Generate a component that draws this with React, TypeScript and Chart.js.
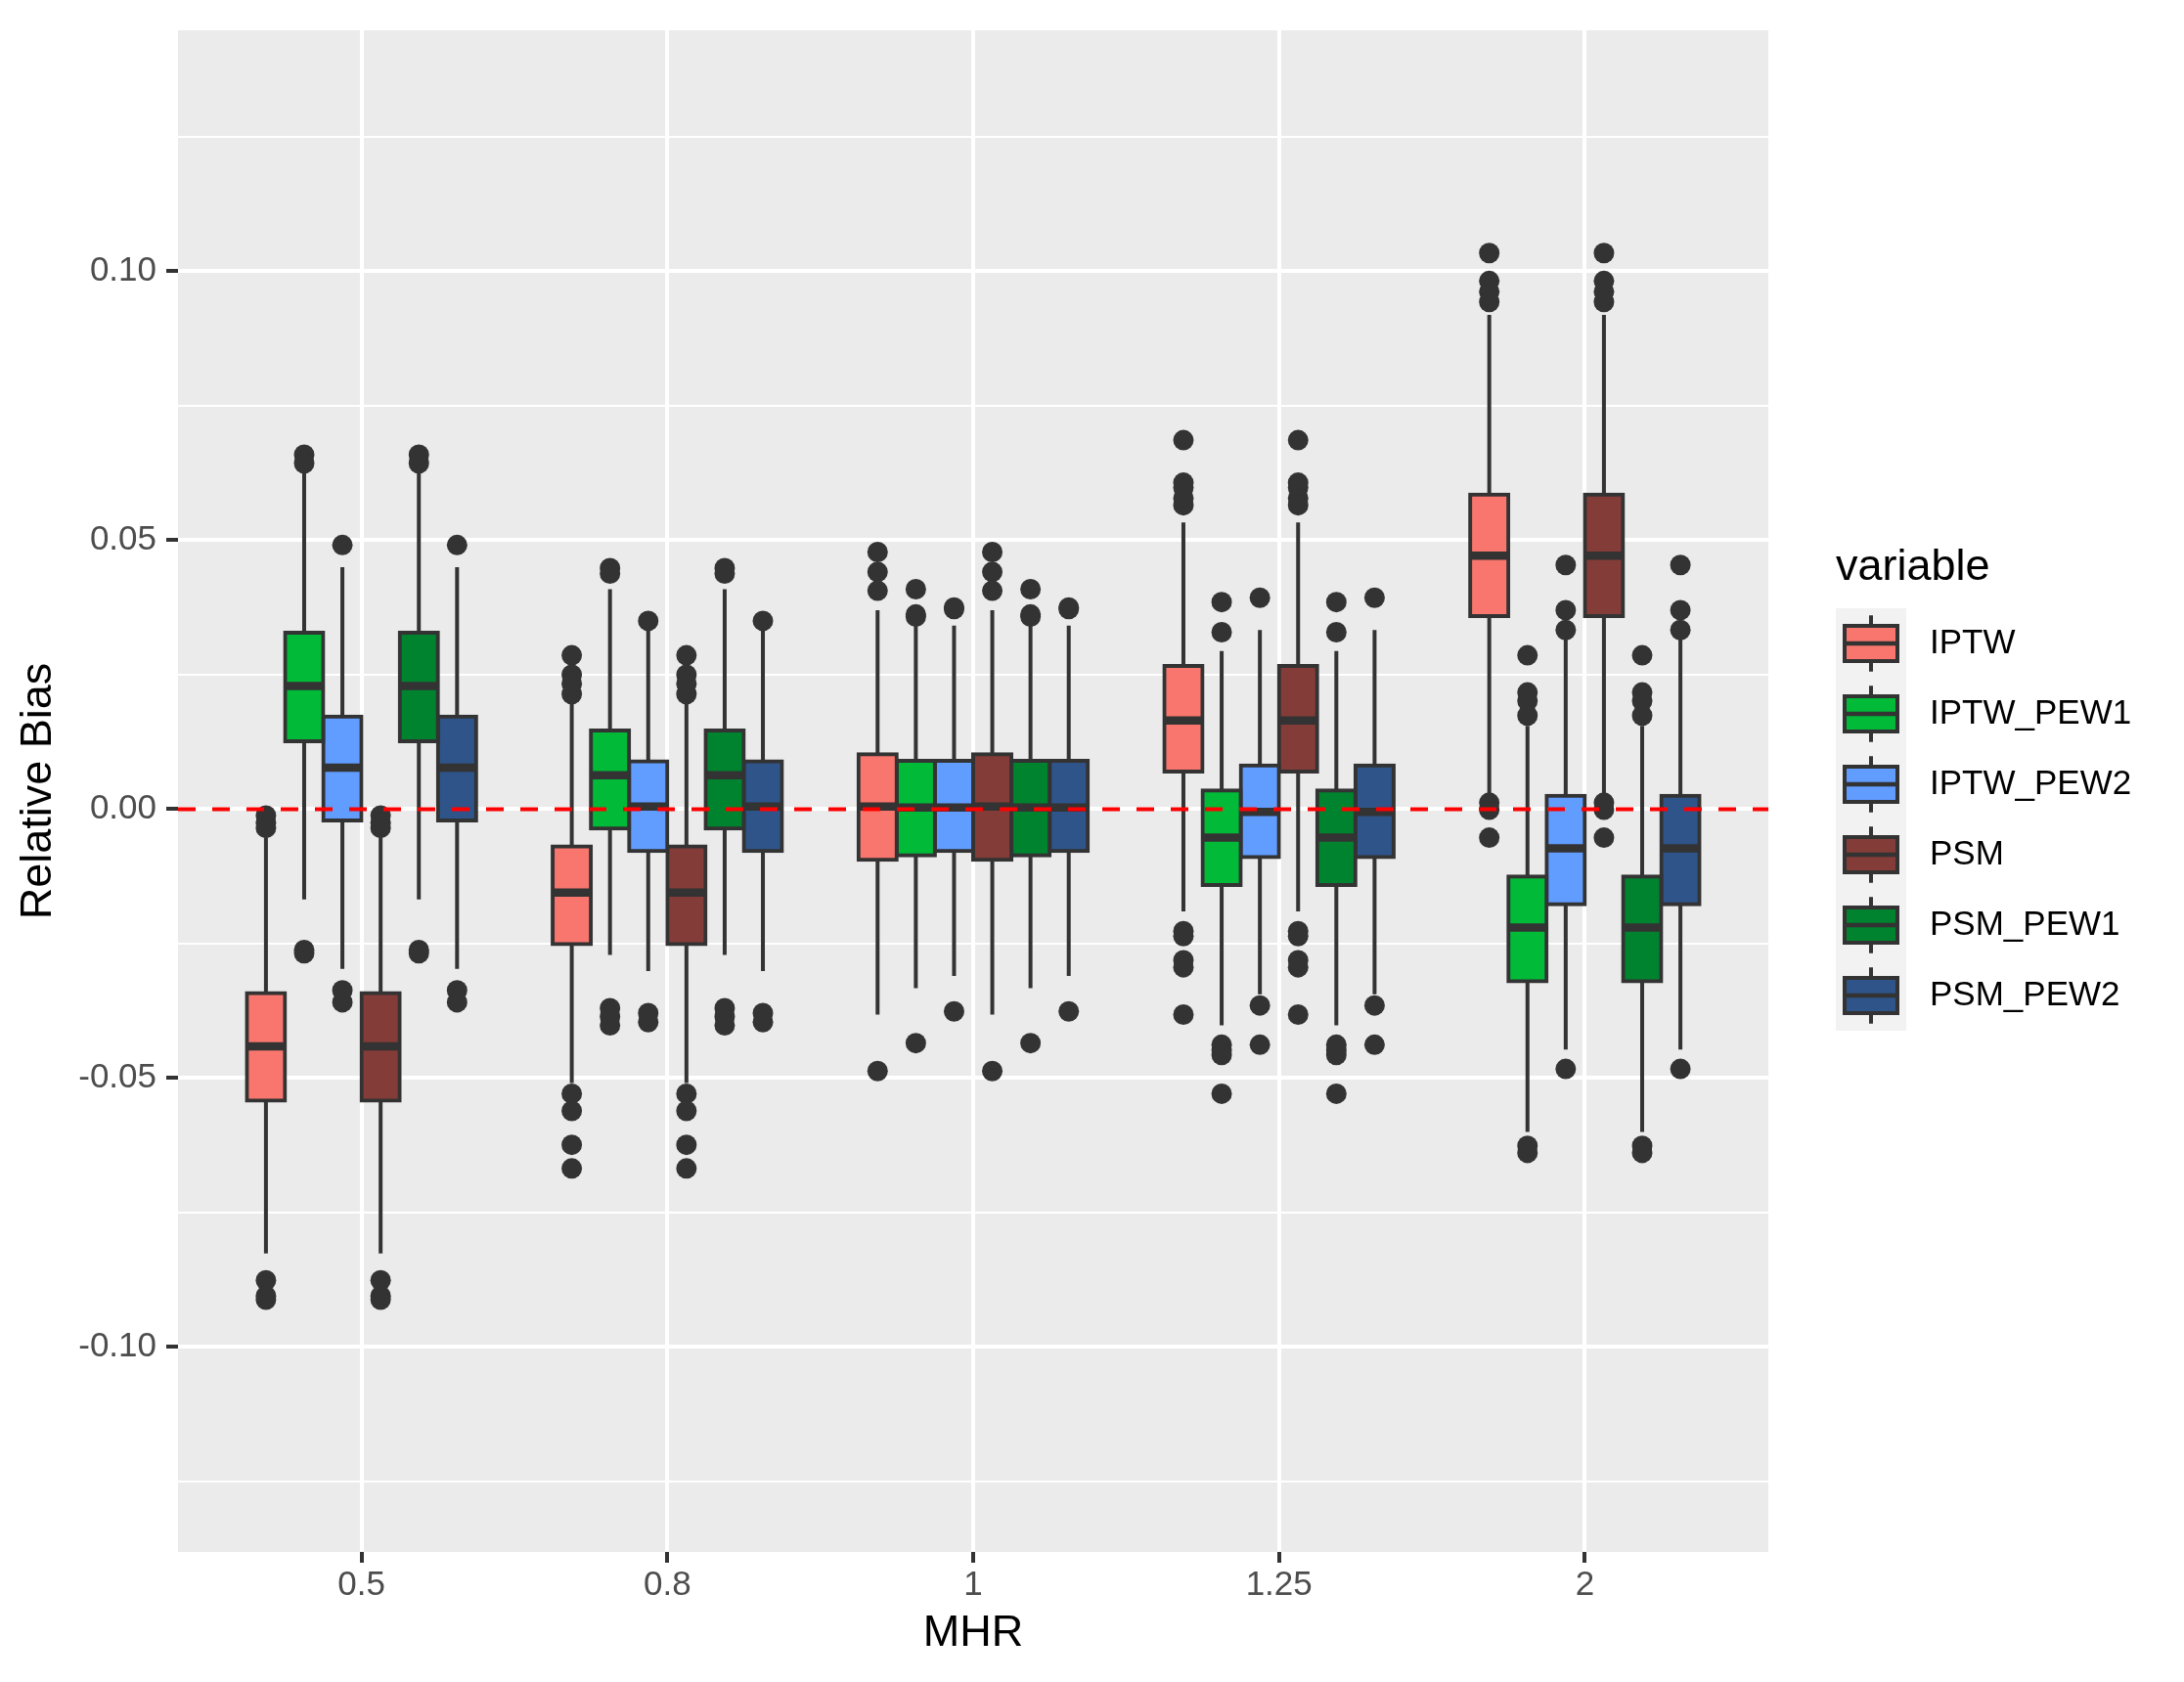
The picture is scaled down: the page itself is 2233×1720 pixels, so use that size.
import { useEffect, useRef } from "react"
import { Chart, registerables } from "chart.js"

Chart.register(...registerables)

const FONT = '"Liberation Sans", Arial, Helvetica, sans-serif'
const DARK = "#333333"

// categorias do eixo x (MHR)
const mhrLabels = ["0.5", "0.8", "1", "1.25", "2"]

// IPTW
const iptwLow = [-0.0826, -0.0509, -0.0382, -0.019, 0.0025]
const iptwQ1 = [-0.0542, -0.0251, -0.0094, 0.007, 0.0359]
const iptwMed = [-0.0441, -0.0155, 0.0005, 0.0165, 0.0471]
const iptwQ3 = [-0.0342, -0.0069, 0.0102, 0.0266, 0.0585]
const iptwHigh = [-0.0053, 0.0198, 0.037, 0.0533, 0.0919]
const iptwOut = [
  [-0.0012, -0.0025, -0.0035, -0.0876, -0.0905, -0.0912],
  [0.0286, 0.025, 0.0233, 0.0214, -0.0529, -0.0561, -0.0624, -0.0668],
  [0.0478, 0.0441, 0.0406, -0.0487],
  [0.0686, 0.0607, 0.0598, 0.0578, 0.0565, -0.0227, -0.0236, -0.0281, -0.0294, -0.0382],
  [0.1034, 0.0982, 0.0962, 0.0943, 0.0012, -0.0001, -0.0053],
]

// IPTW_PEW1
const pew1Low = [-0.0168, -0.0271, -0.0333, -0.0402, -0.06]
const pew1Q1 = [0.0126, -0.0036, -0.0086, -0.0141, -0.032]
const pew1Med = [0.0229, 0.0063, 0.0003, -0.0053, -0.022]
const pew1Q3 = [0.0328, 0.0146, 0.009, 0.0035, -0.0125]
const pew1High = [0.063, 0.0409, 0.0341, 0.0294, 0.0155]
const pew1Out = [
  [0.0659, 0.0643, -0.0262, -0.0268],
  [0.0448, 0.0438, -0.037, -0.0386, -0.0402],
  [0.0409, 0.0362, 0.0358, -0.0435],
  [0.0385, 0.0329, -0.0438, -0.0448, -0.0457, -0.0529],
  [0.0286, 0.0217, 0.0201, 0.0174, -0.0626, -0.0639],
]

// IPTW_PEW2
const pew2Low = [-0.0297, -0.0301, -0.031, -0.0344, -0.0447]
const pew2Q1 = [-0.0021, -0.0078, -0.0078, -0.0089, -0.0177]
const pew2Med = [0.0077, 0.0005, 0.0003, -0.0005, -0.0073]
const pew2Q3 = [0.0172, 0.0089, 0.009, 0.0081, 0.0025]
const pew2High = [0.045, 0.0335, 0.0341, 0.0333, 0.0318]
const pew2Out = [
  [0.0491, -0.0337, -0.0359],
  [0.035, -0.0379, -0.0396],
  [0.0372, 0.0375, -0.0376],
  [0.0393, -0.0365, -0.0438],
  [0.0454, 0.037, 0.0333, -0.0483],
]

// PSM
const psmLow = [-0.0826, -0.0509, -0.0382, -0.019, 0.0025]
const psmQ1 = [-0.0542, -0.0251, -0.0094, 0.007, 0.0359]
const psmMed = [-0.0441, -0.0155, 0.0005, 0.0165, 0.0471]
const psmQ3 = [-0.0342, -0.0069, 0.0102, 0.0266, 0.0585]
const psmHigh = [-0.0053, 0.0198, 0.037, 0.0533, 0.0919]
const psmOut = [
  [-0.0012, -0.0025, -0.0035, -0.0876, -0.0905, -0.0912],
  [0.0286, 0.025, 0.0233, 0.0214, -0.0529, -0.0561, -0.0624, -0.0668],
  [0.0478, 0.0441, 0.0406, -0.0487],
  [0.0686, 0.0607, 0.0598, 0.0578, 0.0565, -0.0227, -0.0236, -0.0281, -0.0294, -0.0382],
  [0.1034, 0.0982, 0.0962, 0.0943, 0.0012, -0.0001, -0.0053],
]

// PSM_PEW1
const psmPew1Low = [-0.0168, -0.0271, -0.0333, -0.0402, -0.06]
const psmPew1Q1 = [0.0126, -0.0036, -0.0086, -0.0141, -0.032]
const psmPew1Med = [0.0229, 0.0063, 0.0003, -0.0053, -0.022]
const psmPew1Q3 = [0.0328, 0.0146, 0.009, 0.0035, -0.0125]
const psmPew1High = [0.063, 0.0409, 0.0341, 0.0294, 0.0155]
const psmPew1Out = [
  [0.0659, 0.0643, -0.0262, -0.0268],
  [0.0448, 0.0438, -0.037, -0.0386, -0.0402],
  [0.0409, 0.0362, 0.0358, -0.0435],
  [0.0385, 0.0329, -0.0438, -0.0448, -0.0457, -0.0529],
  [0.0286, 0.0217, 0.0201, 0.0174, -0.0626, -0.0639],
]

// PSM_PEW2
const psmPew2Low = [-0.0297, -0.0301, -0.031, -0.0344, -0.0447]
const psmPew2Q1 = [-0.0021, -0.0078, -0.0078, -0.0089, -0.0177]
const psmPew2Med = [0.0077, 0.0005, 0.0003, -0.0005, -0.0073]
const psmPew2Q3 = [0.0172, 0.0089, 0.009, 0.0081, 0.0025]
const psmPew2High = [0.045, 0.0335, 0.0341, 0.0333, 0.0318]
const psmPew2Out = [
  [0.0491, -0.0337, -0.0359],
  [0.035, -0.0379, -0.0396],
  [0.0372, 0.0375, -0.0376],
  [0.0393, -0.0365, -0.0438],
  [0.0454, 0.037, 0.0333, -0.0483],
]

const series = [
  { name: "IPTW", fill: "#F8766D", low: iptwLow, q1: iptwQ1, med: iptwMed, q3: iptwQ3, high: iptwHigh, out: iptwOut },
  { name: "IPTW_PEW1", fill: "#00BA38", low: pew1Low, q1: pew1Q1, med: pew1Med, q3: pew1Q3, high: pew1High, out: pew1Out },
  { name: "IPTW_PEW2", fill: "#619CFF", low: pew2Low, q1: pew2Q1, med: pew2Med, q3: pew2Q3, high: pew2High, out: pew2Out },
  { name: "PSM", fill: "#843C38", low: psmLow, q1: psmQ1, med: psmMed, q3: psmQ3, high: psmHigh, out: psmOut },
  { name: "PSM_PEW1", fill: "#00832F", low: psmPew1Low, q1: psmPew1Q1, med: psmPew1Med, q3: psmPew1Q3, high: psmPew1High, out: psmPew1Out },
  { name: "PSM_PEW2", fill: "#2E5489", low: psmPew2Low, q1: psmPew2Q1, med: psmPew2Med, q3: psmPew2Q3, high: psmPew2High, out: psmPew2Out },
]

const isMajor = (v: number) => Math.abs(Math.round(v / 0.025)) % 2 === 0

// bigodes, medianas, outliers, linha de referência e legenda
const boxplotPlugin = {
  id: "boxplotParts",
  beforeDraw(chart: Chart) {
    const { ctx, chartArea: a } = chart
    ctx.save()
    ctx.fillStyle = "#FFFFFF"
    ctx.fillRect(0, 0, chart.width, chart.height)
    ctx.fillStyle = "#EBEBEB"
    ctx.fillRect(a.left, a.top, a.right - a.left, a.bottom - a.top)
    ctx.restore()
  },
  beforeDatasetsDraw(chart: Chart) {
    const { ctx, chartArea: a } = chart
    const ys = chart.scales.y
    ctx.save()
    ctx.beginPath()
    ctx.rect(a.left, a.top, a.right - a.left, a.bottom - a.top)
    ctx.clip()
    ctx.strokeStyle = DARK
    ctx.fillStyle = DARK
    ctx.lineWidth = 4
    series.forEach((s, v) => {
      chart.getDatasetMeta(v).data.forEach((bar: any, i: number) => {
        const { x } = bar.getProps(["x"], true)
        ctx.beginPath()
        ctx.moveTo(x, ys.getPixelForValue(s.high[i]))
        ctx.lineTo(x, ys.getPixelForValue(s.q3[i]))
        ctx.moveTo(x, ys.getPixelForValue(s.q1[i]))
        ctx.lineTo(x, ys.getPixelForValue(s.low[i]))
        ctx.stroke()
        s.out[i].forEach((o) => {
          ctx.beginPath()
          ctx.arc(x, ys.getPixelForValue(o), 10.5, 0, Math.PI * 2)
          ctx.fill()
        })
      })
    })
    ctx.restore()
  },
  afterDatasetsDraw(chart: Chart) {
    const { ctx, chartArea: a } = chart
    const ys = chart.scales.y
    ctx.save()
    ctx.strokeStyle = DARK
    ctx.lineWidth = 8.5
    series.forEach((s, v) => {
      chart.getDatasetMeta(v).data.forEach((bar: any, i: number) => {
        const { x, width } = bar.getProps(["x", "width"], true)
        const y = ys.getPixelForValue(s.med[i])
        ctx.beginPath()
        ctx.moveTo(x - width / 2, y)
        ctx.lineTo(x + width / 2, y)
        ctx.stroke()
      })
    })
    // linha tracejada em zero
    const y0 = ys.getPixelForValue(0)
    ctx.strokeStyle = "#FF0000"
    ctx.lineWidth = 4
    ctx.setLineDash([18, 17])
    ctx.beginPath()
    ctx.moveTo(a.left, y0)
    ctx.lineTo(a.right, y0)
    ctx.stroke()
    ctx.restore()
  },
  afterDraw(chart: Chart) {
    const { ctx } = chart
    const lx = 1877
    const ly = 622
    const keyW = 72
    const keyH = 72
    ctx.save()
    ctx.fillStyle = "#000000"
    ctx.font = `45px ${FONT}`
    ctx.textBaseline = "alphabetic"
    ctx.textAlign = "left"
    ctx.fillText("variable", lx, 593)
    ctx.fillStyle = "#F2F2F2"
    ctx.fillRect(lx, ly, keyW, keyH * series.length)
    series.forEach((s, k) => {
      const top = ly + k * keyH
      const cx = lx + keyW / 2
      const cy = top + keyH / 2
      ctx.strokeStyle = DARK
      ctx.lineWidth = 4
      ctx.beginPath()
      ctx.moveTo(cx, top + 0.1 * keyH)
      ctx.lineTo(cx, top + 0.25 * keyH)
      ctx.moveTo(cx, top + 0.75 * keyH)
      ctx.lineTo(cx, top + 0.9 * keyH)
      ctx.stroke()
      ctx.fillStyle = s.fill
      ctx.fillRect(cx - 0.375 * keyW, top + 0.25 * keyH, 0.75 * keyW, 0.5 * keyH)
      ctx.strokeRect(cx - 0.375 * keyW, top + 0.25 * keyH, 0.75 * keyW, 0.5 * keyH)
      ctx.lineWidth = 4.5
      ctx.beginPath()
      ctx.moveTo(cx - 0.375 * keyW, cy)
      ctx.lineTo(cx + 0.375 * keyW, cy)
      ctx.stroke()
      ctx.fillStyle = "#000000"
      ctx.font = `35px ${FONT}`
      ctx.textBaseline = "middle"
      ctx.fillText(s.name, 1973, cy)
    })
    ctx.restore()
  },
}

function BoxplotChart() {
  const chartRef = useRef<HTMLCanvasElement>(null)
  const chartInstance = useRef<Chart | null>(null)

  useEffect(() => {
    if (!chartRef.current) return
    if (chartInstance.current) chartInstance.current.destroy()

    const ctx = chartRef.current.getContext("2d")
    if (!ctx) return

    chartInstance.current = new Chart(ctx, {
      type: "bar",
      data: {
        datasets: series.map((s) => ({
          label: s.name,
          data: mhrLabels.map((_, i) => ({ x: i + 1, y: [s.q1[i], s.q3[i]] })),
          backgroundColor: s.fill,
          borderColor: DARK,
          borderWidth: 4,
          borderSkipped: false,
          inflateAmount: 2,
          categoryPercentage: 0.75,
          barPercentage: 1,
        })),
      },
      options: {
        responsive: false,
        animation: false,
        layout: { padding: { top: 23, right: 425, bottom: 0, left: 0 } },
        plugins: {
          legend: { display: false },
          tooltip: { enabled: false },
        },
        scales: {
          x: {
            type: "linear",
            min: 0.4,
            max: 5.6,
            offset: false,
            border: { display: false },
            grid: {
              offset: false,
              color: "#FFFFFF",
              lineWidth: 4,
              drawTicks: true,
              tickLength: 11,
              tickColor: DARK,
              tickWidth: 4,
            },
            ticks: {
              stepSize: 1,
              includeBounds: false,
              autoSkip: false,
              maxRotation: 0,
              padding: 2,
              color: "#4D4D4D",
              font: { family: FONT, size: 35 },
              callback: (value: any) => mhrLabels[Math.round(Number(value)) - 1] ?? "",
            },
            title: {
              display: true,
              text: "MHR",
              color: "#000000",
              font: { family: FONT, size: 45, lineHeight: 1.2 },
              padding: { top: 0, bottom: 22 },
            },
            afterFit: (scale: any) => {
              scale.height = 133
            },
          },
          y: {
            type: "linear",
            min: -0.1381,
            max: 0.1448,
            border: { display: false },
            grid: {
              color: "#FFFFFF",
              lineWidth: (c: any) => (isMajor(c.tick.value) ? 4 : 2),
              drawTicks: true,
              tickLength: 12,
              tickColor: (c: any) => (isMajor(c.tick.value) ? DARK : "rgba(0,0,0,0)"),
              tickWidth: 4,
            },
            ticks: {
              stepSize: 0.025,
              includeBounds: false,
              autoSkip: false,
              padding: 10,
              color: "#4D4D4D",
              font: { family: FONT, size: 35 },
              callback: (value: any) => (isMajor(Number(value)) ? Number(value).toFixed(2) : ""),
            },
            title: {
              display: true,
              text: "Relative Bias",
              color: "#000000",
              font: { family: FONT, size: 45, lineHeight: 1.2 },
              padding: { top: 13, bottom: 0 },
            },
            afterFit: (scale: any) => {
              scale.width = 182
            },
          },
        },
      },
      plugins: [boxplotPlugin],
    } as any)

    return () => {
      if (chartInstance.current) {
        chartInstance.current.destroy()
        chartInstance.current = null
      }
    }
  }, [])

  return <canvas ref={chartRef} width={2233} height={1720} style={{ display: "block" }}></canvas>
}

export default function App() {
  useEffect(() => {
    document.body.style.margin = "0"
  }, [])
  return (
    <div style={{ position: "absolute", left: 0, top: 0, width: 2233, height: 1720, background: "#FFFFFF" }}>
      <BoxplotChart />
    </div>
  )
}
